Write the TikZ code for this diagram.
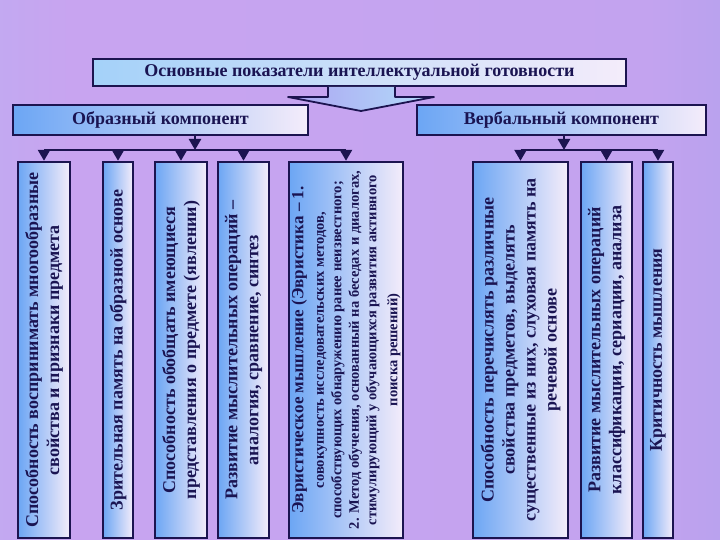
\documentclass[tikz,border=0pt]{standalone}
\usepackage{fontspec}
\setmainfont{Liberation Serif}
\usetikzlibrary{arrows.meta}
\definecolor{frame}{HTML}{1C1450}
\definecolor{ink}{HTML}{1A1452}
\definecolor{boxblue}{HTML}{6CA6F4}
\definecolor{boxcyan}{HTML}{B2DCFA}
\definecolor{boxpale}{HTML}{F4ECFA}
\definecolor{bgleft}{HTML}{A8C0F4}
\definecolor{bgmid}{HTML}{C8A4F0}
\definecolor{bgright}{HTML}{8A9AE6}
\pgfdeclarehorizontalshading{bgshade}{100bp}{color(0bp)=(bgleft); color(30bp)=(bgmid);
  color(70bp)=(bgmid!92!bgright); color(100bp)=(bgright)}

\begin{document}
\begin{tikzpicture}[
  x=1pt,y=-1pt,
  >={Triangle[width=12pt,length=11pt]},
  panel/.style={draw=frame,line width=2.4pt,left color=boxblue,middle color=boxcyan,
    right color=boxpale,text=ink,font=\bfseries\fontsize{18}{21}\selectfont,inner sep=0pt},
  head/.style={panel,minimum height=30pt},
  ibox/.style={panel,rotate=90,minimum width=376pt,minimum height=#1,
    text width=366pt,align=flush center},
  link/.style={frame,line width=2.4pt},
]
  \useasboundingbox (0,0) rectangle (720,540);
  \shade[shading=bgshade] (0,0) rectangle (720,540);

  % headings
  \node[head,minimum width=533pt,minimum height=27pt,left color=boxcyan!80!boxblue,
    middle color=boxcyan,right color=boxpale] (title) at (359.5,72.5)
    {Основные показатели интеллектуальной готовности};
  \node[head,minimum width=295pt] (obr) at (160.5,120) {Образный компонент};
  \node[head,minimum width=289pt] (verb) at (561.5,120) {Вербальный компонент};

  % block arrow under the title
  \fill[left color=bgmid!70!boxblue,right color=boxcyan]
    (328,87) -- (328,97) -- (288,97) -- (361,111) -- (434,97) -- (395,97) -- (395,87) -- cycle;
  \draw[frame,line width=1.8pt,line join=round]
    (328,87) -- (328,97) -- (288,97) -- (361,111) -- (434,97) -- (395,97) -- (395,87);

  % indicator boxes (rotated: east is the top edge)
  \node[ibox=52pt] (b1) at (44,350)
    {Способность воспринимать многообразные\\ свойства и признаки предмета};
  \node[ibox=30pt] (b2) at (118,350) {Зрительная память на образной основе};
  \node[ibox=52pt] (b3) at (181,350)
    {Способность обобщать имеющиеся\\ представления о предмете (явлении)};
  \node[ibox=51pt] (b4) at (243.5,350)
    {Развитие мыслительных операций –\\ аналогия, сравнение, синтез};
  \node[ibox=114pt] (b5) at (346,350)
    {\fontsize{17}{20}\selectfont Эвристическое мышление (Эвристика – 1.\\[3pt]
     \fontsize{14.5}{17.5}\selectfont совокупность исследовательских методов,\\
     способствующих обнаружению ранее неизвестного;\\
     2. Метод обучения, основанный на беседах и диалогах,\\
     стимулирующий у обучающихся развития активного\\
     поиска решений)};
  \node[ibox=95pt] (b6) at (520.5,350)
    {Способность перечислять различные\\ свойства предметов, выделять\\
     существенные из них, слуховая память на\\ речевой основе};
  \node[ibox=51pt] (b7) at (606.5,350)
    {Развитие мыслительных операций\\ классификации, сериации, анализа};
  \node[ibox=30pt] (b8) at (658,350) {Критичность мышления};

  % connectors
  \coordinate (lbus) at (195,150);
  \coordinate (rbus) at (564,150);
  \draw[link,->] (lbus |- obr.south) -- (lbus);
  \draw[link,->] (rbus |- verb.south) -- (rbus);
  \draw[link] (b1.east |- lbus) -- (b5.east |- lbus);
  \draw[link] (b6.east |- rbus) -- (b8.east |- rbus);
  \foreach \b in {b1,b2,b3,b4,b5}
    \draw[link,->] (\b.east |- lbus) -- (\b.east);
  \foreach \b in {b6,b7,b8}
    \draw[link,->] (\b.east |- rbus) -- (\b.east);
\end{tikzpicture}
\end{document}
